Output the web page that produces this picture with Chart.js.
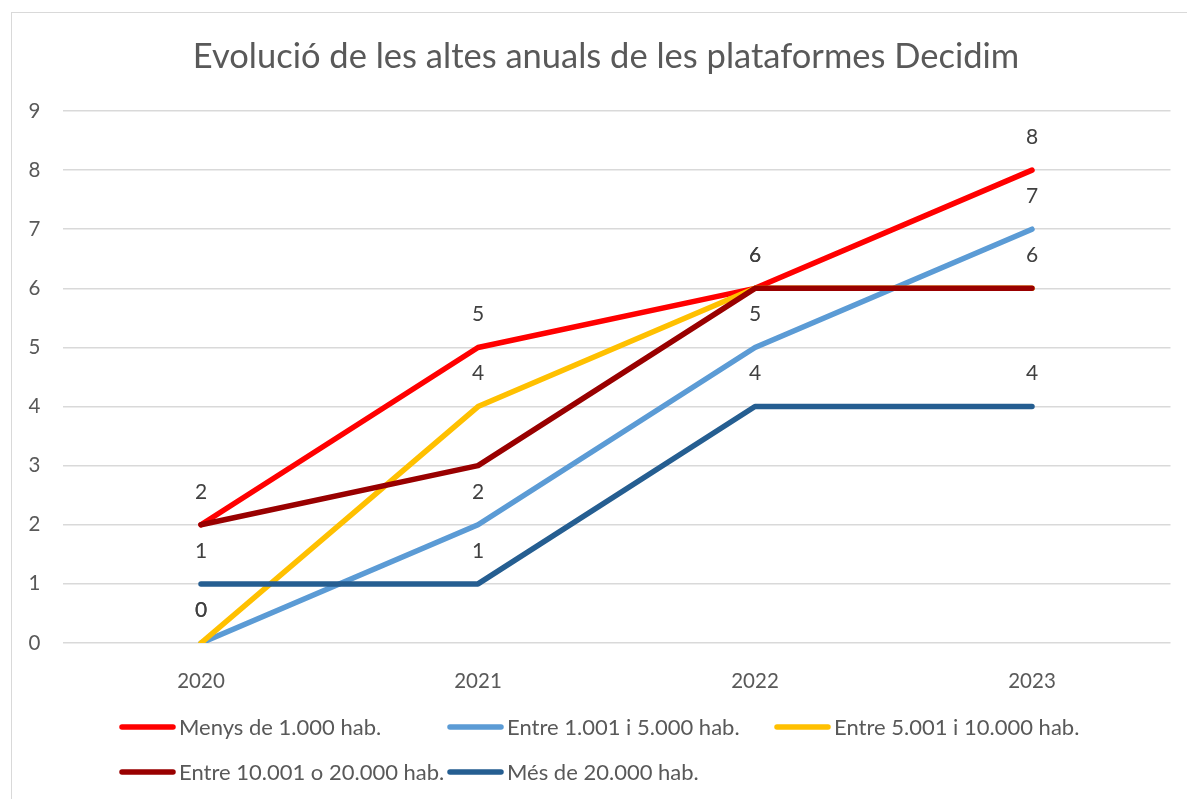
<!DOCTYPE html>
<html>
<head>
<meta charset="utf-8">
<script src="https://cdn.jsdelivr.net/npm/chart.js@4.4.0/dist/chart.umd.min.js"></script>
<style>
  html, body { margin: 0; padding: 0; background: #fff; overflow: hidden; }
  #wrap { position: relative; width: 1187px; height: 799px; }
  #frame { position: absolute; left: 11px; top: 12px; width: 1300px; height: 900px; border: 1px solid #d9d9d9; }
  canvas { position: absolute; left: 0; top: 0; }
</style>
</head>
<body>
<div id="wrap">
  <div id="frame"></div>
  <canvas id="chart" width="1187" height="799"></canvas>
</div>
<script>
// data
const years = ["2020", "2021", "2022", "2023"];
const menys1000 = [2, 5, 6, 8];
const entre1001 = [0, 2, 5, 7];
const entre5001 = [0, 4, 6, 6];
const entre10001 = [2, 3, 6, 6];
const mes20000 = [1, 1, 4, 4];

const chartTitle = "Evolució de les altes anuals de les plataformes Decidim";
const FONT = "Lato, 'Noto Sans', sans-serif";

function series(label, data, color, order, showLabels) {
  return {
    label: label,
    data: data,
    borderColor: color,
    backgroundColor: color,
    borderWidth: 5.5,
    borderCapStyle: "round",
    borderJoinStyle: "round",
    pointRadius: 0,
    tension: 0,
    order: order,
    showLabels: showLabels
  };
}

// title drawn by hand so it can sit where Excel put it
const titlePlugin = {
  id: "xlTitle",
  afterDraw(chart) {
    const ctx = chart.ctx;
    ctx.save();
    ctx.font = "34.5px " + FONT;
    ctx.fillStyle = "#595959";
    ctx.textAlign = "center";
    ctx.textBaseline = "middle";
    ctx.fillText(chartTitle, 606, 57);
    ctx.restore();
  }
};

// value labels above the points
const valueLabels = {
  id: "valueLabels",
  afterDatasetsDraw(chart) {
    const ctx = chart.ctx;
    ctx.save();
    ctx.font = "21px " + FONT;
    ctx.fillStyle = "#404040";
    ctx.textAlign = "center";
    ctx.textBaseline = "middle";
    chart.data.datasets.forEach((ds, i) => {
      if (!ds.showLabels) return;
      chart.getDatasetMeta(i).data.forEach((pt, j) => {
        ctx.fillText(String(ds.data[j]), pt.x, pt.y - 33);
      });
    });
    ctx.restore();
  }
};

// excel style legend, fixed columns
const legendPlugin = {
  id: "xlLegend",
  afterDraw(chart) {
    const ctx = chart.ctx;
    const rows = [[0, 1, 2], [3, 4]];
    const rowY = [727, 772];
    const colX = [120, 448, 775];
    ctx.save();
    ctx.font = "22px " + FONT;
    ctx.textBaseline = "middle";
    rows.forEach((row, r) => {
      row.forEach((idx, k) => {
        const ds = chart.data.datasets[idx];
        const x = colX[k];
        const y = rowY[r];
        ctx.strokeStyle = ds.borderColor;
        ctx.lineWidth = 5.5;
        ctx.lineCap = "round";
        ctx.beginPath();
        ctx.moveTo(x + 2, y);
        ctx.lineTo(x + 53, y);
        ctx.stroke();
        ctx.fillStyle = "#595959";
        ctx.fillText(ds.label, x + 59, y + 1);
      });
    });
    ctx.restore();
  }
};

new Chart(document.getElementById("chart"), {
  type: "line",
  data: {
    labels: years,
    datasets: [
      series("Menys de 1.000 hab.", menys1000, "#FF0000", 5, true),
      series("Entre 1.001 i 5.000 hab.", entre1001, "#5B9BD5", 4, true),
      series("Entre 5.001 i 10.000 hab.", entre5001, "#FFC000", 3, true),
      series("Entre 10.001 o 20.000 hab.", entre10001, "#990000", 2, false),
      series("Més de 20.000 hab.", mes20000, "#255E91", 1, true)
    ]
  },
  options: {
    responsive: false,
    animation: false,
    layout: { padding: { top: 111, left: 12, right: 16.5, bottom: 0 } },
    plugins: {
      legend: { display: false },
      title: { display: false },
      tooltip: { enabled: false }
    },
    scales: {
      x: {
        offset: true,
        grid: { display: false },
        border: { display: false },
        ticks: { color: "#595959", font: { family: FONT, size: 20.5 }, padding: 18 },
        afterFit(scale) { scale.height = 156; }
      },
      y: {
        min: 0,
        max: 9,
        grid: { color: "#d9d9d9", lineWidth: 1.5, drawTicks: false },
        border: { display: false },
        ticks: { stepSize: 1, color: "#595959", font: { family: FONT, size: 20.5 }, padding: 22 },
        afterFit(scale) { scale.width = 50.5; }
      }
    }
  },
  plugins: [titlePlugin, valueLabels, legendPlugin]
});
</script>
</body>
</html>
